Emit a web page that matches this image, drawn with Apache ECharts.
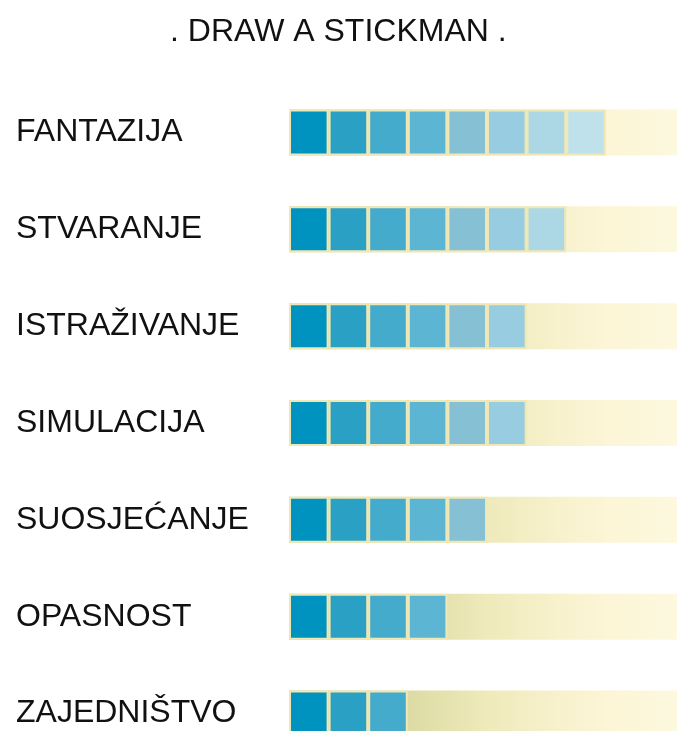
<!DOCTYPE html>
<html>
<head>
<meta charset="utf-8">
<script src="https://cdn.jsdelivr.net/npm/echarts@6/dist/echarts.min.js"></script>
<style>
  html, body { margin: 0; padding: 0; background: #fff; overflow: hidden; }
  /* a bit larger than the window: the last row and the track run off the edge */
  #chart { width: 685px; height: 770px; }
</style>
</head>
<body>
<div id="chart"></div>
<script>
// Draw a stickman: how many steps each skill reaches, on a 10-step scale
const CATEGORIES = ['FANTAZIJA', 'STVARANJE', 'ISTRAŽIVANJE', 'SIMULACIJA', 'SUOSJEĆANJE', 'OPASNOST', 'ZAJEDNIŠTVO']
const VALUES = [8, 7, 6, 6, 5, 4, 3]
const SCALE_MAX = [10, 10, 10, 10, 10, 10, 10]
const BLOCK_COLORS = ['#0093bf', '#29a0c4', '#45abcd', '#5cb5d3', '#85c0d5', '#98cce0', '#acd7e5', '#bfe1eb']

const FONT = '"Liberation Sans", Arial, sans-serif'

const track = {
  type: 'linear', x: 0, y: 0, x2: 1, y2: 0,
  colorStops: [
    { offset: 0, color: '#cfd191' },
    { offset: 0.3, color: '#dcdba4' },
    { offset: 0.5, color: '#eeeaba' },
    { offset: 0.65, color: '#f6f0ca' },
    { offset: 0.8, color: '#fcf5d6' },
    { offset: 1, color: '#fdf9df' },
  ],
}

const chart = echarts.init(document.getElementById('chart'), null, { renderer: 'canvas' })

const blocks = BLOCK_COLORS.map((c, i) => ({
  type: 'bar',
  stack: 'steps',
  barWidth: 46,
  z: 3,
  silent: true,
  itemStyle: { color: c, borderColor: '#efe8b6', borderWidth: 2 },
  data: VALUES.map((v) => (v > i ? 1 : '-')),
}))

chart.setOption({
  animation: false,
  title: {
    text: '. DRAW A STICKMAN .',
    left: 165,
    top: 11,
    textStyle: { fontFamily: FONT, fontSize: 32, fontWeight: 'normal', color: '#111' },
  },
  grid: { left: 289, right: 0, top: 84, bottom: 8 },
  xAxis: {
    type: 'value', min: 0, max: 10,
    show: false,
  },
  yAxis: {
    type: 'category', data: CATEGORIES, inverse: true,
    axisLine: { show: false }, axisTick: { show: false },
    axisLabel: {
      align: 'left', margin: 273,
      fontFamily: FONT, fontSize: 32, color: '#111',
    },
  },
  series: [
    {
      type: 'bar',
      barWidth: 46,
      barGap: '-100%',
      z: 1,
      silent: true,
      itemStyle: { color: track },
      data: SCALE_MAX,
    },
    ...blocks,
  ],
})
</script>
</body>
</html>
